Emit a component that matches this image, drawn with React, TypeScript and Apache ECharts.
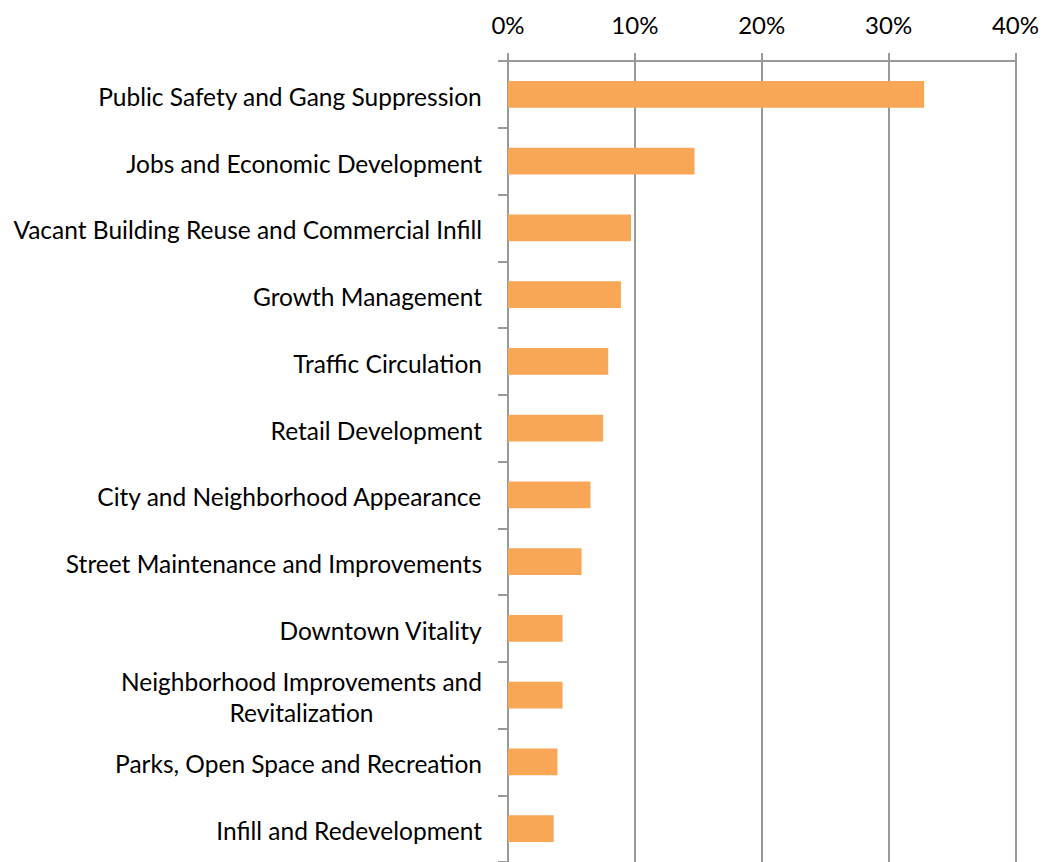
import React, { useEffect, useRef } from "react";
import * as echarts from "echarts";

const categories = [
  "Public Safety and Gang Suppression",
  "Jobs and Economic Development",
  "Vacant Building Reuse and Commercial Infill",
  "Growth Management",
  "Traffic Circulation",
  "Retail Development",
  "City and Neighborhood Appearance",
  "Street Maintenance and Improvements",
  "Downtown Vitality",
  "Neighborhood Improvements and\nRevitalization",
  "Parks, Open Space and Recreation",
  "Infill and Redevelopment",
];
const values = [32.8, 14.7, 9.7, 8.9, 7.9, 7.5, 6.5, 5.8, 4.3, 4.3, 3.9, 3.6];

const FONT = "Lato";

export default function App() {
  const ref = useRef<HTMLDivElement>(null);
  useEffect(() => {
    if (!ref.current) return;
    const chart = echarts.init(ref.current, undefined, { renderer: "svg" });
    chart.setOption({
      animation: false,
      backgroundColor: "#ffffff",
      grid: { left: 508, right: 26, top: 61, bottom: -4, containLabel: false },
      xAxis: {
        type: "value",
        position: "top",
        min: 0,
        max: 40,
        interval: 10,
        axisLine: { show: true, lineStyle: { color: "#999999", width: 2 } },
        axisTick: { show: true, length: 8, lineStyle: { color: "#999999", width: 2 } },
        splitLine: { show: true, lineStyle: { color: "#999999", width: 2 } },
        axisLabel: {
          formatter: "{value}%",
          fontSize: 24,
          fontFamily: FONT,
          color: "#000000",
          margin: 25,
        },
      },
      yAxis: {
        type: "category",
        inverse: true,
        data: categories,
        axisLine: { show: true, lineStyle: { color: "#999999", width: 2 } },
        axisTick: { show: true, length: 10, lineStyle: { color: "#999999", width: 2 } },
        axisLabel: {
          interval: 0,
          margin: 26,
          formatter: (v: string) =>
            v
              .split("\n")
              .map((s) => "{a|" + s + "}")
              .join("\n"),
          rich: {
            a: {
              fontSize: 24.5,
              fontFamily: FONT,
              color: "#000000",
              align: "center",
              lineHeight: 31,
              padding: [4, 0, 0, 0],
            },
          },
        },
      },
      series: [
        {
          type: "bar",
          data: values,
          barCategoryGap: "60%",
          itemStyle: { color: "#F8A757" },
        },
      ],
    });
    return () => chart.dispose();
  }, []);
  return (
    <div
      ref={ref}
      style={{ position: "fixed", left: 0, top: 0, width: 1042, height: 862 }}
    />
  );
}
